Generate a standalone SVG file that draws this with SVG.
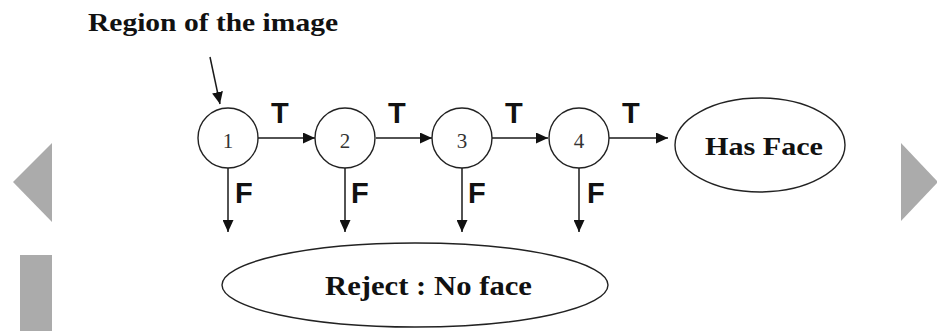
<svg xmlns="http://www.w3.org/2000/svg" width="937" height="331" viewBox="0 0 937 331">
<style>
.nav{fill:#ababab}
.ln{stroke:#1a1a1a;stroke-width:1.5;fill:none}
.node{fill:#fff;stroke:#222;stroke-width:1.4}
.ser{font-family:"Liberation Serif","Times New Roman",serif;font-weight:bold;fill:#111}
.dig{font-family:"Liberation Serif","Times New Roman",serif;font-size:21px;fill:#333;text-anchor:middle}
.lbl{font-family:"Liberation Sans",Arial,sans-serif;font-weight:bold;font-size:29px;fill:#111}
</style>
<defs>
<marker id="ah" markerUnits="userSpaceOnUse" markerWidth="13" markerHeight="11" refX="12" refY="5.5" orient="auto">
<path d="M0,0 L12,5.5 L0,11 z" fill="#111"/>
</marker>
</defs>
<rect width="937" height="331" fill="#fff"/>
<polygon class="nav" points="52,143 13,182 52,222"/>
<rect class="nav" x="20" y="255" width="32" height="76"/>
<polygon class="nav" points="901,143 938,182 901,221"/>
<text class="ser" x="88" y="31" font-size="26" textLength="250" lengthAdjust="spacingAndGlyphs">Region of the image</text>
<g id="connectors">
<line class="ln" x1="210" y1="57" x2="220" y2="104" marker-end="url(#ah)"/>
<line class="ln" x1="258" y1="138" x2="315" y2="138" marker-end="url(#ah)"/>
<line class="ln" x1="376" y1="138" x2="432" y2="138" marker-end="url(#ah)"/>
<line class="ln" x1="492" y1="138" x2="548" y2="138" marker-end="url(#ah)"/>
<line class="ln" x1="609" y1="138" x2="668" y2="138" marker-end="url(#ah)"/>
<line class="ln" x1="228" y1="168" x2="228" y2="232" marker-end="url(#ah)"/>
<line class="ln" x1="345" y1="168" x2="345" y2="232" marker-end="url(#ah)"/>
<line class="ln" x1="462" y1="168" x2="462" y2="232" marker-end="url(#ah)"/>
<line class="ln" x1="579" y1="168" x2="579" y2="232" marker-end="url(#ah)"/>
<text class="lbl" x="271" y="123">T</text>
<text class="lbl" x="388" y="123">T</text>
<text class="lbl" x="505" y="123">T</text>
<text class="lbl" x="622" y="123">T</text>
<text class="lbl" x="235" y="203">F</text>
<text class="lbl" x="351" y="203">F</text>
<text class="lbl" x="468" y="203">F</text>
<text class="lbl" x="587" y="203">F</text>
</g>
<g id="n1"><circle class="node" cx="228" cy="138" r="30"/><text class="dig" x="228" y="148">1</text></g>
<g id="n2"><circle class="node" cx="345" cy="138" r="30"/><text class="dig" x="345" y="148">2</text></g>
<g id="n3"><circle class="node" cx="462" cy="138" r="30"/><text class="dig" x="462" y="148">3</text></g>
<g id="n4"><circle class="node" cx="579" cy="138" r="30"/><text class="dig" x="579" y="148">4</text></g>
<g id="hasface"><ellipse class="node" cx="760" cy="145" rx="85" ry="47"/><text class="ser" x="705" y="155" font-size="26" textLength="118" lengthAdjust="spacingAndGlyphs">Has Face</text></g>
<g id="reject"><ellipse class="node" cx="415" cy="285" rx="193" ry="42"/><text class="ser" x="325" y="295" font-size="28" textLength="207" lengthAdjust="spacingAndGlyphs">Reject : No face</text></g>
</svg>
